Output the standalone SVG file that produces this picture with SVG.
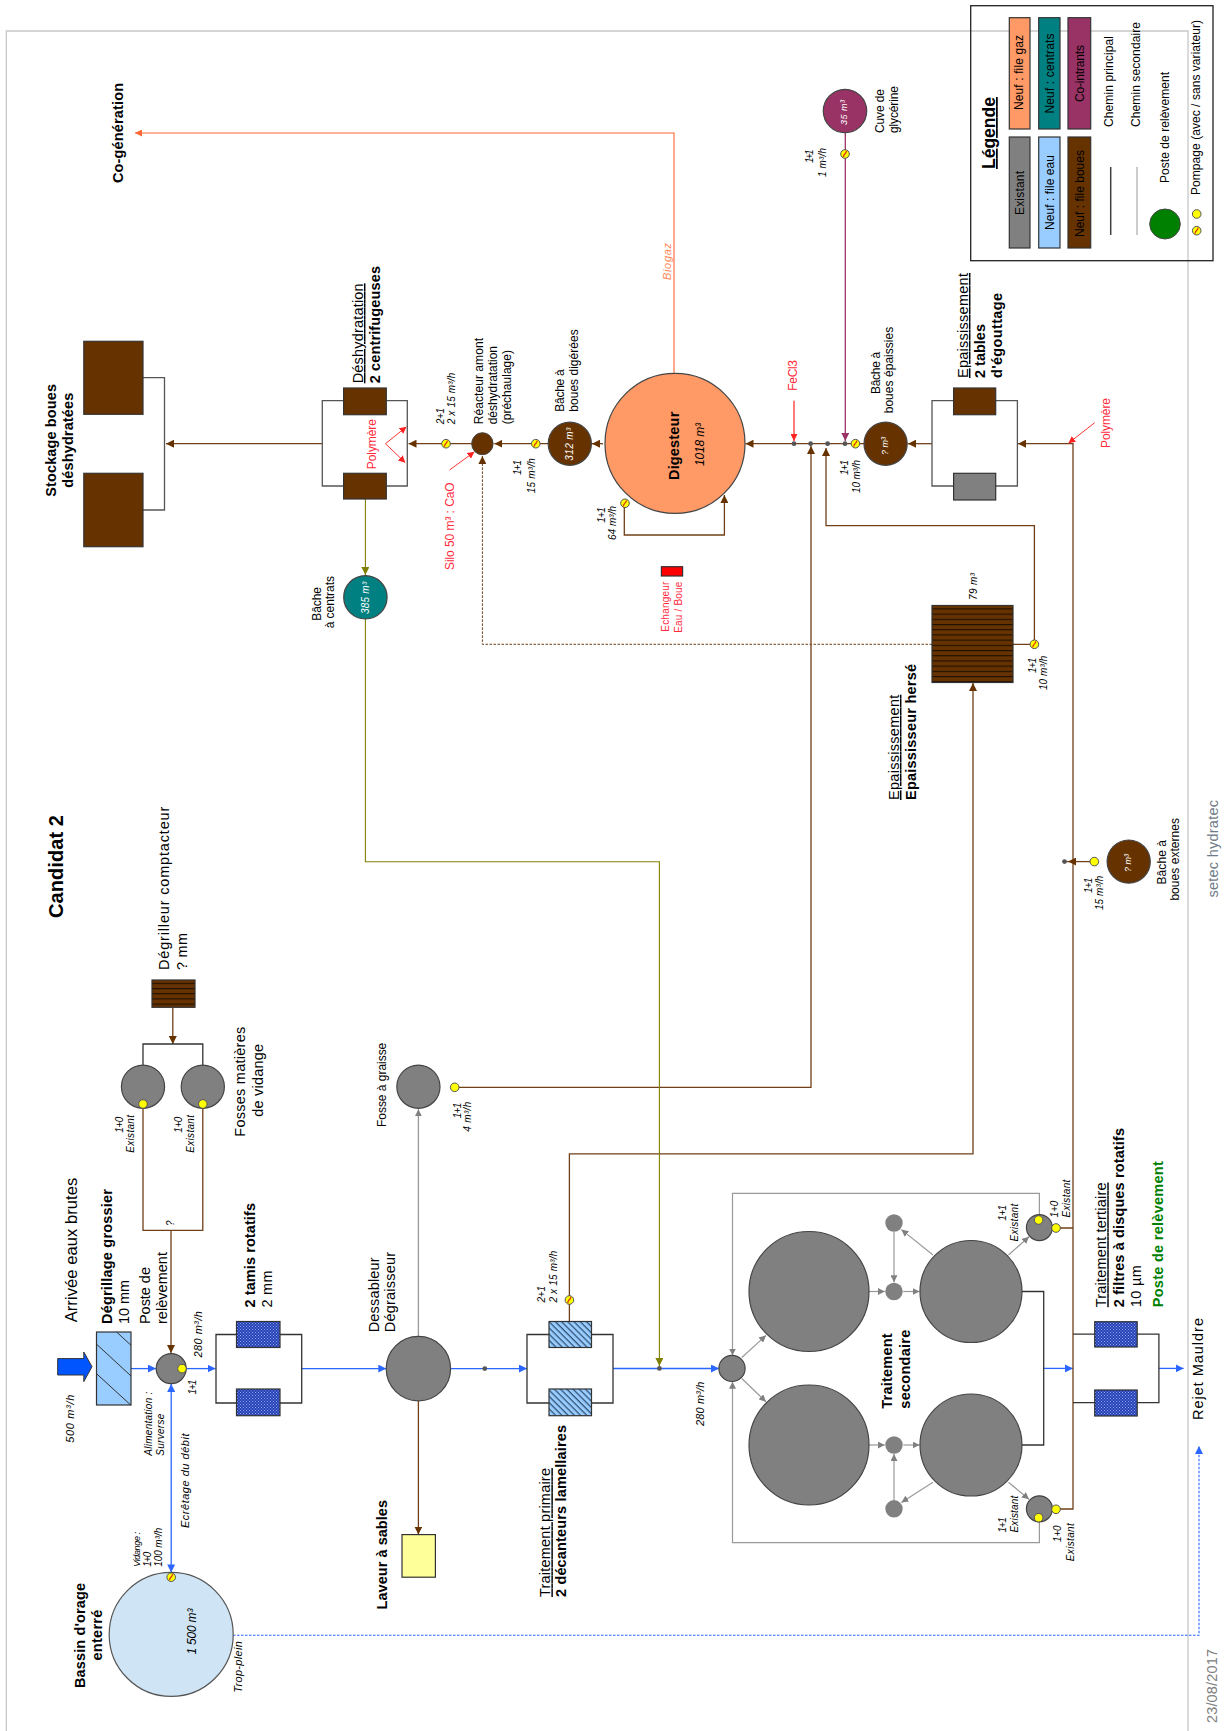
<svg xmlns="http://www.w3.org/2000/svg" width="1226" height="1731" viewBox="0 0 1226 1731">
<style>
text{font-family:"Liberation Sans",Arial,sans-serif;fill:#000}
.s9{font-size:9px}.s10{font-size:10px}.s11{font-size:11px}.s12{font-size:12px}.s13{font-size:14.5px}.s14{font-size:14.5px}.s15{font-size:15px}.s16{font-size:16.5px}.s17{font-size:17.5px}.s20{font-size:20px}
.b{font-weight:bold}.i{font-style:italic}.u{text-decoration:underline}
.w{fill:#fff}.red{fill:#ff2a3c}.grn{fill:#008000}.or{fill:#ff8855}.gr{fill:#808080}.sl{fill:#6f7b88}
.l{fill:none;stroke-width:1.3}
.blue{stroke:#2a66ff}.brown{stroke:#70401a}.gray{stroke:#999}.olive{stroke:#808000;stroke-width:1.1}.redl{stroke:#ff3333}.pur{stroke:#993366}.orl{stroke:#ff6633}.blk{stroke:#333}
.eq{stroke:#333;stroke-width:1.2}
.ci{stroke:#444;stroke-width:1.2;fill:#808080}
.sw{stroke:#333;stroke-width:1.2}
</style>
<defs>
<marker id="aBlue" viewBox="0 0 8 8" refX="8" refY="4" markerWidth="8" markerHeight="8" markerUnits="userSpaceOnUse" orient="auto-start-reverse"><path d="M0,0L8,4L0,8Z" fill="#2a66ff"/></marker>
<marker id="aBrown" viewBox="0 0 8 8" refX="8" refY="4" markerWidth="8" markerHeight="8" markerUnits="userSpaceOnUse" orient="auto"><path d="M0,0L8,4L0,8Z" fill="#663300"/></marker>
<marker id="aGray" viewBox="0 0 8 8" refX="8" refY="4" markerWidth="7" markerHeight="7" markerUnits="userSpaceOnUse" orient="auto"><path d="M0,0L8,4L0,8Z" fill="#808080"/></marker>
<marker id="aOlive" viewBox="0 0 8 8" refX="8" refY="4" markerWidth="8" markerHeight="8" markerUnits="userSpaceOnUse" orient="auto"><path d="M0,0L8,4L0,8Z" fill="#808000"/></marker>
<marker id="aRed" viewBox="0 0 8 8" refX="8" refY="4" markerWidth="7" markerHeight="7" markerUnits="userSpaceOnUse" orient="auto"><path d="M0,0L8,4L0,8Z" fill="#ff2020"/></marker>
<marker id="aPur" viewBox="0 0 8 8" refX="8" refY="4" markerWidth="8" markerHeight="8" markerUnits="userSpaceOnUse" orient="auto"><path d="M0,0L8,4L0,8Z" fill="#993366"/></marker>
<marker id="aOr" viewBox="0 0 8 8" refX="8" refY="4" markerWidth="7" markerHeight="7" markerUnits="userSpaceOnUse" orient="auto"><path d="M0,0L8,4L0,8Z" fill="#ff6633"/></marker>
<pattern id="chk" width="3" height="3" patternUnits="userSpaceOnUse"><rect width="3" height="3" fill="#2440b4"/><rect width="1" height="1" fill="#8fa6f0"/><rect x="1.5" y="1.5" width="1" height="1" fill="#8fa6f0"/></pattern>
<pattern id="hatch" width="4.4" height="4.4" patternUnits="userSpaceOnUse" patternTransform="rotate(45)"><rect width="4.4" height="4.4" fill="#99ccff"/><rect width="4.4" height="1.3" fill="#335577"/></pattern>
<pattern id="herse" width="5.2" height="5.2" patternUnits="userSpaceOnUse"><rect width="5.2" height="5.2" fill="#663300"/><rect width="5.2" height="1.1" fill="#1e0f00"/></pattern>
<g id="py"><circle r="4.3" fill="#ffff00" stroke="#555" stroke-width="1"/></g>
<g id="pv"><circle r="4.3" fill="#ffff00" stroke="#555" stroke-width="1"/><path d="M-1.5,3C-2,0 0.5,1 1.5,-3" fill="none" stroke="#e03010" stroke-width="1.3"/></g>
</defs>
<rect width="1226" height="1731" fill="#fff"/>
<path d="M6.3 1731V31H1188V1731" fill="none" stroke="#c8c8c8" stroke-width="1.3"/>

<g id="connectors">
<!-- water line -->
<path class="l blue" marker-end="url(#aBlue)" d="M131 1368.6H156"/>
<path class="l blue" marker-end="url(#aBlue)" d="M186 1368.6H215.5"/>
<path class="l blue" marker-end="url(#aBlue)" d="M301.7 1368.6H386.3"/>
<path class="l blue" marker-end="url(#aBlue)" d="M450.8 1368.6H527"/>
<path class="l blue" marker-end="url(#aBlue)" d="M613 1368.5H719"/>
<path class="l blue" marker-end="url(#aBlue)" d="M1043.7 1368.4H1073"/>
<path class="l blue" marker-end="url(#aBlue)" d="M1158.9 1368.4H1183.6"/>
<path class="l blue" stroke-width="1.2" marker-start="url(#aBlue)" marker-end="url(#aBlue)" d="M171.2 1384V1572.4"/>
<path fill="none" class="blue" stroke-width="1.1" stroke-dasharray="2.5 1.5" marker-end="url(#aBlue)" d="M233 1635.3H1199V1446"/>
<!-- sludge -->
<path class="l brown" d="M143 1104V1230.4H202.8V1104"/>
<path class="l brown" marker-end="url(#aBrown)" d="M171 1230.4V1353"/>
<path class="l brown" marker-end="url(#aBrown)" d="M172.8 1007.3V1044"/>
<path class="l brown" marker-end="url(#aBrown)" d="M418.4 1400.5V1534.5"/>
<path class="l brown" marker-end="url(#aBrown)" d="M569.4 1322V1153.8H973V683"/>
<path class="l brown" marker-end="url(#aBrown)" d="M454.7 1087.3H811V446"/>
<path class="l brown" marker-end="url(#aBrown)" d="M1013 644.3H1034.4V525.7H826V448"/>
<path fill="none" class="brown" stroke-width="1" stroke-dasharray="2.5 1.5" marker-end="url(#aBrown)" d="M932 644.3H482.4V456"/>
<path class="l brown" marker-end="url(#aBrown)" d="M1056 1228H1073M1056 1509H1073V443.7H1018"/>
<path class="l brown" marker-end="url(#aBrown)" d="M1094 861.6H1068"/>
<path class="l brown" d="M1068 861.6H1064.5"/>
<path class="l brown" marker-end="url(#aBrown)" d="M932 443.7H908"/>
<path class="l brown" marker-end="url(#aBrown)" d="M864 443.7H745.5"/>
<path class="l brown" marker-end="url(#aBrown)" d="M603 443.7H592"/>
<path class="l brown" marker-end="url(#aBrown)" d="M548 443.7H494.3"/>
<path class="l brown" marker-end="url(#aBrown)" d="M471.7 443.7H408.5"/>
<path class="l brown" marker-end="url(#aBrown)" d="M322.3 443.7H166"/>
<path class="l brown" marker-end="url(#aBrown)" d="M624.3 503.3V535H724.4V495"/>
<!-- other -->
<path fill="none" class="olive" marker-end="url(#aOlive)" d="M365.4 499V575"/>
<path fill="none" class="olive" marker-end="url(#aOlive)" d="M365.4 619V861.7H659.4V1366"/>
<path class="l gray" marker-end="url(#aGray)" d="M418.4 1336V1109.3"/>
<path fill="none" class="orl" marker-end="url(#aOr)" stroke-width="1.1" d="M674 373V133H135"/>
<path class="l pur" marker-end="url(#aPur)" d="M845.3 133V441"/>
<path class="l redl" marker-end="url(#aRed)" d="M794 400.7V441"/>
<path fill="none" class="redl" marker-end="url(#aRed)" d="M1094.7 422.7L1068.4 443.3"/>
<path fill="none" class="redl" marker-end="url(#aRed)" d="M449.6 470L474.5 451.7"/>
<path fill="none" class="redl" marker-end="url(#aRed)" d="M385.5 443.7L406.5 426.7"/>
<path fill="none" class="redl" marker-end="url(#aRed)" d="M385.5 443.7L405.3 462.7"/>
<!-- secondary -->
<g class="gray" fill="none" stroke-width="1.2">
<path marker-end="url(#aGray)" d="M741.8 1357.5L766 1335.4"/>
<path marker-end="url(#aGray)" d="M741.8 1378.5L766 1401.8"/>
<path marker-end="url(#aGray)" d="M868.5 1291.5H884.8"/>
<path marker-end="url(#aGray)" d="M868.5 1445H884.8"/>
<path marker-end="url(#aGray)" d="M903.3 1291.5H919.6"/>
<path marker-end="url(#aGray)" d="M903.3 1445H919.6"/>
<path marker-end="url(#aGray)" d="M933 1255L901.4 1229.6"/>
<path marker-end="url(#aGray)" d="M894 1232V1282.3"/>
<path marker-end="url(#aGray)" d="M933 1482.3L901.4 1502.4"/>
<path marker-end="url(#aGray)" d="M894 1500V1454"/>
<path marker-end="url(#aGray)" d="M1008.5 1255L1029 1236.8"/>
<path marker-end="url(#aGray)" d="M1008.5 1482.3L1029 1499.2"/>
<path marker-end="url(#aGray)" d="M1039.4 1220V1193.4H732.5V1355.5"/>
<path marker-end="url(#aGray)" d="M1039.4 1517V1542.7H732.5V1381.7"/>
</g>
<path class="l blk" d="M1022 1291.5H1043.7V1445H1022"/>
<path class="l blk" d="M143 1065V1044H202.8V1065"/>
<path class="l blk" d="M216 1334.5H301.7V1403H216Z"/>
<path class="l blk" d="M527 1334.5H613V1403H527Z"/>
<path class="l blk" d="M1073 1334.2H1158.9V1402.6H1073"/>
<path class="l" stroke="#555" d="M143 377.7H164.5V510H143"/>
<path class="l" stroke="#555" d="M322.3 400.7H407.3V486H322.3Z"/>
<path class="l" stroke="#555" d="M932 400.7H1017.4V486H932Z"/>
</g>

<g id="n-jonctions">
<circle cx="484.8" cy="1368.6" r="2.4" fill="#555"/>
<circle cx="659.4" cy="1368.4" r="2.4" fill="#555"/>
</g>
<g id="n-arrivee">
<path d="M57.7 1358.6H83.8V1352L92 1366.7L83.8 1381.6V1375H57.7Z" fill="#0055ff" stroke="#333"/>
<text class="s16" x="77" y="1322.3" transform="rotate(-90 77 1322.3)" textLength="144.5">Arrivée eaux brutes</text>
<text class="s11 i" x="74" y="1442.7" transform="rotate(-90 74 1442.7)" textLength="48">500 m³/h</text>
</g>
<g id="n-degrillage">
<rect x="96.5" y="1332" width="34.5" height="73" fill="#99ccff" class="eq"/>
<path d="M116.6 1332L131 1345.3M96.9 1344.5L131 1376M96.9 1374L131 1405.3" stroke="#333" stroke-width="1" fill="none"/>
<text class="s14 b" x="111.5" y="1324" transform="rotate(-90 111.5 1324)" textLength="135">Dégrillage grossier</text>
<text class="s14" x="128.5" y="1324" transform="rotate(-90 128.5 1324)" textLength="44">10 mm</text>
</g>
<g id="n-poste">
<circle class="ci" cx="171.2" cy="1368.6" r="15"/>
<use href="#py" x="182" y="1368.6"/>
<text class="s14" x="149.5" y="1324" transform="rotate(-90 149.5 1324)" textLength="57">Poste de</text>
<text class="s14" x="167" y="1324" transform="rotate(-90 167 1324)" textLength="72">relèvement</text>
<text class="s11 i" x="201.7" y="1357.5" transform="rotate(-90 201.7 1357.5)" textLength="46.5">280 m³/h</text>
<text class="s10 i" x="195.7" y="1394.5" transform="rotate(-90 195.7 1394.5)" textLength="14.8">1+1</text>
<text class="s10 i" x="174" y="1226" transform="rotate(-90 174 1226)">?</text>
<text class="s10 i" x="152" y="1455.7" transform="rotate(-90 152 1455.7)" textLength="64">Alimentation :</text>
<text class="s10 i" x="164" y="1455.7" transform="rotate(-90 164 1455.7)" textLength="42">Surverse</text>
<text class="s11 i" x="189" y="1528" transform="rotate(-90 189 1528)" textLength="94.5">Ecrêtage du débit</text>
</g>
<g id="n-bassin">
<circle cx="171.2" cy="1634.4" r="62" fill="#cfe5f5" stroke="#555" stroke-width="1.2"/>
<use href="#pv" x="171.2" y="1577.2"/>
<text class="s14 b" x="85" y="1688" transform="rotate(-90 85 1688)" textLength="105">Bassin d'orage</text>
<text class="s14 b" x="102" y="1660.6" transform="rotate(-90 102 1660.6)" textLength="51">enterré</text>
<text class="s9 i" x="140.4" y="1566.8" transform="rotate(-90 140.4 1566.8)" textLength="35">Vidange :</text>
<text class="s10 i" x="151" y="1566.8" transform="rotate(-90 151 1566.8)" textLength="15">1+0</text>
<text class="s10 i" x="162" y="1566.8" transform="rotate(-90 162 1566.8)" textLength="39">100 m³/h</text>
<text class="s12 i" x="196.5" y="1654.6" transform="rotate(-90 196.5 1654.6)" textLength="46">1 500 m³</text>
<text class="s11 i" x="242.5" y="1692.8" transform="rotate(-90 242.5 1692.8)" textLength="51.8">Trop-plein</text>
</g>
<g id="n-tamis">
<rect x="236.5" y="1321.5" width="43.5" height="26" fill="url(#chk)" class="eq"/>
<rect x="236.5" y="1389" width="43.5" height="26.7" fill="url(#chk)" class="eq"/>
<text class="s14 b" x="255" y="1307.5" transform="rotate(-90 255 1307.5)" textLength="104.5">2 tamis rotatifs</text>
<text class="s14" x="272" y="1307.5" transform="rotate(-90 272 1307.5)" textLength="37">2 mm</text>
</g>
<g id="n-dessableur">
<circle class="ci" cx="418.4" cy="1368.6" r="32.2"/>
<text class="s14" x="378.8" y="1332.3" transform="rotate(-90 378.8 1332.3)" textLength="75">Dessableur</text>
<text class="s14" x="395.4" y="1332.3" transform="rotate(-90 395.4 1332.3)" textLength="80.4">Dégraisseur</text>
</g>
<g id="n-laveur">
<rect x="402" y="1534.6" width="33.4" height="42.6" fill="#ffff99" class="eq"/>
<text class="s14 b" x="387.5" y="1609.4" transform="rotate(-90 387.5 1609.4)" textLength="109.4">Laveur à sables</text>
</g>
<g id="n-fosse-graisse">
<circle class="ci" cx="418.4" cy="1086.7" r="21.6"/>
<use href="#py" x="454.7" y="1087.3"/>
<text class="s12" x="385.5" y="1127" transform="rotate(-90 385.5 1127)" textLength="84.3">Fosse à graisse</text>
<text class="s10 i" x="460.6" y="1118.3" transform="rotate(-90 460.6 1118.3)" textLength="15.6">1+1</text>
<text class="s10 i" x="471.3" y="1131.7" transform="rotate(-90 471.3 1131.7)" textLength="30">4 m³/h</text>
</g>
<g id="n-decanteurs">
<rect x="549" y="1321.5" width="42.5" height="26" fill="url(#hatch)" class="eq"/>
<rect x="549" y="1389" width="42.5" height="26.7" fill="url(#hatch)" class="eq"/>
<use href="#pv" x="569.4" y="1300"/>
<text class="s10 i" x="545" y="1302.6" transform="rotate(-90 545 1302.6)" textLength="16.6">2+1</text>
<text class="s10 i" x="556.7" y="1302.6" transform="rotate(-90 556.7 1302.6)" textLength="51.8">2 x 15 m³/h</text>
<text class="s14 u" x="550.4" y="1597" transform="rotate(-90 550.4 1597)" textLength="129">Traitement primaire</text>
<text class="s14 b" x="566.2" y="1597" transform="rotate(-90 566.2 1597)" textLength="172">2 décanteurs lamellaires</text>
</g>
<g id="n-fosses">
<circle class="ci" cx="143" cy="1086.7" r="21.6"/>
<circle class="ci" cx="202.8" cy="1086.7" r="21.6"/>
<use href="#py" x="143" y="1104"/>
<use href="#py" x="202.8" y="1104"/>
<text class="s10 i" x="122.6" y="1132.7" transform="rotate(-90 122.6 1132.7)" textLength="16">1+0</text>
<text class="s10 i" x="134.4" y="1152.7" transform="rotate(-90 134.4 1152.7)" textLength="37.7">Existant</text>
<text class="s10 i" x="182" y="1132.7" transform="rotate(-90 182 1132.7)" textLength="16">1+0</text>
<text class="s10 i" x="193.8" y="1152.7" transform="rotate(-90 193.8 1152.7)" textLength="37.7">Existant</text>
<text class="s14" x="245" y="1136.7" transform="rotate(-90 245 1136.7)" textLength="110">Fosses matières</text>
<text class="s14" x="263" y="1116.7" transform="rotate(-90 263 1116.7)" textLength="72.7">de vidange</text>
</g>
<g id="n-degrilleur">
<rect x="152" y="980" width="43" height="27.3" fill="url(#herse)" class="eq"/>
<text class="s14" x="169.2" y="970" transform="rotate(-90 169.2 970)" textLength="163.3">Dégrilleur comptacteur</text>
<text class="s14" x="186.6" y="970" transform="rotate(-90 186.6 970)" textLength="37">? mm</text>
</g>
<g id="title"><text class="s20 b" x="62.5" y="918" transform="rotate(-90 62.5 918)" textLength="103">Candidat 2</text></g>
<g id="n-secondaire">
<circle class="ci" cx="732" cy="1368.4" r="13.1"/>
<circle class="ci" cx="809" cy="1291.5" r="60"/>
<circle class="ci" cx="809" cy="1445" r="60"/>
<circle class="ci" cx="971" cy="1291.5" r="51"/>
<circle class="ci" cx="971" cy="1445" r="51"/>
<circle cx="894" cy="1223" r="8.7" fill="#808080"/>
<circle cx="894" cy="1291.5" r="8.7" fill="#808080"/>
<circle cx="894" cy="1445" r="8.7" fill="#808080"/>
<circle cx="894" cy="1508.8" r="8.7" fill="#808080"/>
<circle class="ci" cx="1039.4" cy="1227.6" r="13"/>
<circle class="ci" cx="1039.4" cy="1508.8" r="13"/>
<use href="#py" x="1038.6" y="1220"/>
<use href="#py" x="1056" y="1228"/>
<use href="#py" x="1038.6" y="1517.7"/>
<use href="#py" x="1056" y="1509.3"/>
<text class="s11 i" x="704.3" y="1426" transform="rotate(-90 704.3 1426)" textLength="44.3">280 m³/h</text>
<text class="s14 b" x="892.5" y="1408.7" transform="rotate(-90 892.5 1408.7)" textLength="75.3">Traitement</text>
<text class="s14 b" x="910" y="1408.7" transform="rotate(-90 910 1408.7)" textLength="79">secondaire</text>
<text class="s10 i" x="1006.5" y="1220.7" transform="rotate(-90 1006.5 1220.7)" textLength="15.7">1+1</text>
<text class="s10 i" x="1018" y="1241.6" transform="rotate(-90 1018 1241.6)" textLength="37.8">Existant</text>
<text class="s10 i" x="1057.6" y="1217.5" transform="rotate(-90 1057.6 1217.5)" textLength="16.9">1+0</text>
<text class="s10 i" x="1069.6" y="1217.5" transform="rotate(-90 1069.6 1217.5)" textLength="37.8">Existant</text>
<text class="s10 i" x="1006.5" y="1532.6" transform="rotate(-90 1006.5 1532.6)" textLength="15.3">1+1</text>
<text class="s10 i" x="1018" y="1532.6" transform="rotate(-90 1018 1532.6)" textLength="37">Existant</text>
<text class="s10 i" x="1061.4" y="1541.9" transform="rotate(-90 1061.4 1541.9)" textLength="16.5">1+0</text>
<text class="s10 i" x="1074" y="1561.2" transform="rotate(-90 1074 1561.2)" textLength="37.9">Existant</text>
</g>
<g id="n-filtres">
<rect x="1094.7" y="1321.7" width="42.5" height="25.3" fill="url(#chk)" class="eq"/>
<rect x="1094.7" y="1390" width="42.5" height="26" fill="url(#chk)" class="eq"/>
<text class="s14 u" x="1106.3" y="1307.2" transform="rotate(-90 1106.3 1307.2)" textLength="124.7">Traitement tertiaire</text>
<text class="s14 b" x="1123.7" y="1307.2" transform="rotate(-90 1123.7 1307.2)" textLength="179.2">2 filtres à disques rotatifs</text>
<text class="s14" x="1141" y="1307.2" transform="rotate(-90 1141 1307.2)" textLength="42">10 µm</text>
<text class="s14 b grn" x="1163" y="1307.2" transform="rotate(-90 1163 1307.2)" textLength="146">Poste de relèvement</text>
</g>
<g id="n-rejet"><text class="s14" x="1203" y="1420" transform="rotate(-90 1203 1420)" textLength="102">Rejet Mauldre</text></g>
<g id="footer">
<text class="s13 gr" x="1217" y="1723" transform="rotate(-90 1217 1723)" textLength="74">23/08/2017</text>
<text class="s13 sl" x="1218" y="897.5" transform="rotate(-90 1218 897.5)" textLength="97.5">setec hydratec</text>
</g>
<g id="n-externes">
<circle cx="1128.7" cy="861.6" r="21.6" fill="#663300" stroke="#444" stroke-width="1.2"/>
<use href="#py" x="1094.3" y="861.6"/>
<circle cx="1064.5" cy="861.6" r="2.4" fill="#555"/>
<text class="s9 i w" x="1131" y="872" transform="rotate(-90 1131 872)">? m³</text>
<text class="s10 i" x="1092" y="893" transform="rotate(-90 1092 893)" textLength="15.4">1+1</text>
<text class="s10 i" x="1103" y="910" transform="rotate(-90 1103 910)" textLength="34.3">15 m³/h</text>
<text class="s12" x="1165.8" y="884.5" transform="rotate(-90 1165.8 884.5)" textLength="44.5">Bâche à</text>
<text class="s12" x="1179" y="900.6" transform="rotate(-90 1179 900.6)" textLength="82.6">boues externes</text>
</g>
<g id="n-herse">
<rect x="932" y="605.5" width="81" height="77" fill="url(#herse)" class="eq"/>
<use href="#pv" x="1034.4" y="644.3"/>
<text class="s10 i" x="977" y="600" transform="rotate(-90 977 600)" textLength="27">79 m³</text>
<text class="s14 u" x="899" y="800" transform="rotate(-90 899 800)" textLength="105.3">Epaississement</text>
<text class="s14 b" x="915.7" y="800" transform="rotate(-90 915.7 800)" textLength="136">Epaississeur hersé</text>
<text class="s10 i" x="1035.5" y="673" transform="rotate(-90 1035.5 673)" textLength="15.4">1+1</text>
<text class="s10 i" x="1047" y="690" transform="rotate(-90 1047 690)" textLength="34.3">10 m³/h</text>
</g>
<g id="n-echangeur">
<rect x="661.4" y="566.7" width="21.2" height="9.3" fill="#ff0000" stroke="#333" stroke-width="1.2"/>
<text class="s10 red" x="669" y="631.7" transform="rotate(-90 669 631.7)" textLength="50">Echangeur</text>
<text class="s10 red" x="681.8" y="632.7" transform="rotate(-90 681.8 632.7)" textLength="51">Eau / Boue</text>
</g>
<g id="n-tables">
<rect x="953.6" y="388" width="42.1" height="26.7" fill="#663300" class="eq"/>
<rect x="953.6" y="473.3" width="42.1" height="26.7" fill="#808080" class="eq"/>
<text class="s14 u" x="968" y="378" transform="rotate(-90 968 378)" textLength="105">Epaississement</text>
<text class="s14 b" x="985" y="378" transform="rotate(-90 985 378)" textLength="54">2 tables</text>
<text class="s14 b" x="1002" y="378" transform="rotate(-90 1002 378)" textLength="85">d'égouttage</text>
<text class="s12 red" x="1110" y="448" transform="rotate(-90 1110 448)" textLength="50">Polymère</text>
</g>
<g id="n-bache-epaissies">
<circle cx="885.6" cy="443.7" r="21.6" fill="#663300" stroke="#444" stroke-width="1.2"/>
<use href="#pv" x="855.4" y="443.7"/>
<circle cx="794" cy="443.7" r="2.4" fill="#555"/><circle cx="810.6" cy="443.7" r="2.4" fill="#555"/><circle cx="827.6" cy="443.7" r="2.4" fill="#555"/><circle cx="845" cy="443.7" r="2.4" fill="#555"/>
<text class="s9 i w" x="888" y="455" transform="rotate(-90 888 455)">? m³</text>
<text class="s12" x="879.8" y="394" transform="rotate(-90 879.8 394)" textLength="42.3">Bâche à</text>
<text class="s12" x="893" y="413.3" transform="rotate(-90 893 413.3)" textLength="86.6">boues épaissies</text>
<text class="s10 i" x="848" y="475" transform="rotate(-90 848 475)" textLength="15">1+1</text>
<text class="s10 i" x="860.4" y="493" transform="rotate(-90 860.4 493)" textLength="33">10 m³/h</text>
<text class="s12 red" x="797" y="390.7" transform="rotate(-90 797 390.7)" textLength="30.7">FeCl3</text>
</g>
<g id="n-digesteur">
<ellipse cx="675" cy="443.4" rx="70" ry="70" fill="#ff9966" stroke="#444" stroke-width="1.2"/>
<use href="#pv" x="625" y="503.3"/>
<text class="s14 b" x="678.8" y="480" transform="rotate(-90 678.8 480)" textLength="68.3">Digesteur</text>
<text class="s12 i" x="704" y="466" transform="rotate(-90 704 466)" textLength="43">1018 m³</text>
<text class="s11 i or" x="671" y="280" transform="rotate(-90 671 280)" textLength="37">Biogaz</text>
<text class="s10 i" x="605" y="522.7" transform="rotate(-90 605 522.7)" textLength="15.4">1+1</text>
<text class="s10 i" x="616" y="540" transform="rotate(-90 616 540)" textLength="34">64 m³/h</text>
</g>
<g id="n-cogeneration"><text class="s14 b" x="122.8" y="183" transform="rotate(-90 122.8 183)" textLength="100">Co-génération</text></g>
<g id="n-bache-digerees">
<circle cx="569.8" cy="443.7" r="21.6" fill="#663300" stroke="#444" stroke-width="1.2"/>
<use href="#pv" x="535.8" y="443.7"/>
<text class="s10 i w" x="572.6" y="460.7" transform="rotate(-90 572.6 460.7)" textLength="33">312 m³</text>
<text class="s12" x="564.3" y="411.7" transform="rotate(-90 564.3 411.7)" textLength="42.4">Bâche à</text>
<text class="s12" x="578" y="411.7" transform="rotate(-90 578 411.7)" textLength="82.4">boues digérées</text>
<text class="s10 i" x="521" y="475" transform="rotate(-90 521 475)" textLength="15">1+1</text>
<text class="s10 i" x="534.6" y="493.3" transform="rotate(-90 534.6 493.3)" textLength="35">15 m³/h</text>
</g>
<g id="n-reacteur">
<ellipse cx="482.4" cy="443.7" rx="10.7" ry="11" fill="#663300" stroke="#444" stroke-width="1"/>
<use href="#pv" x="446" y="443.7"/>
<text class="s10 i" x="443.6" y="424.3" transform="rotate(-90 443.6 424.3)" textLength="16.3">2+1</text>
<text class="s10 i" x="454.7" y="424.3" transform="rotate(-90 454.7 424.3)" textLength="51.6">2 x 15 m³/h</text>
<text class="s12" x="483" y="424.3" transform="rotate(-90 483 424.3)" textLength="86.3">Réacteur amont</text>
<text class="s12" x="497" y="424.3" transform="rotate(-90 497 424.3)" textLength="78.3">déshydratation</text>
<text class="s12" x="511" y="424.3" transform="rotate(-90 511 424.3)" textLength="74.3">(préchaulage)</text>
<text class="s12 red" x="453.5" y="570" transform="rotate(-90 453.5 570)" textLength="87.7">Silo 50 m³ : CaO</text>
</g>
<g id="n-centrifugeuses">
<rect x="343.6" y="388" width="42.7" height="26.7" fill="#663300" class="eq"/>
<rect x="343.6" y="473.3" width="42.7" height="25.7" fill="#663300" class="eq"/>
<text class="s14 u" x="363" y="383.3" transform="rotate(-90 363 383.3)" textLength="100">Déshydratation</text>
<text class="s14 b" x="379.6" y="383.3" transform="rotate(-90 379.6 383.3)" textLength="117.3">2 centrifugeuses</text>
<text class="s12 red" x="376.4" y="469.3" transform="rotate(-90 376.4 469.3)" textLength="50.3">Polymère</text>
</g>
<g id="n-stockage">
<rect x="83.8" y="341.3" width="59.2" height="73" fill="#663300" class="eq"/>
<rect x="83.8" y="473.3" width="59.2" height="73.4" fill="#663300" class="eq"/>
<text class="s14 b" x="56" y="496.7" transform="rotate(-90 56 496.7)" textLength="112.7">Stockage boues</text>
<text class="s14 b" x="73" y="487.7" transform="rotate(-90 73 487.7)" textLength="95">déshydratées</text>
</g>
<g id="n-centrats">
<circle cx="365.4" cy="597.3" r="21.7" fill="#008080" stroke="#444" stroke-width="1.2"/>
<text class="s10 i w" x="368.5" y="614" transform="rotate(-90 368.5 614)" textLength="32.3">385 m³</text>
<text class="s12" x="321.5" y="620.7" transform="rotate(-90 321.5 620.7)" textLength="33.7">Bâche</text>
<text class="s12" x="334" y="628.3" transform="rotate(-90 334 628.3)" textLength="52.3">à centrats</text>
</g>
<g id="n-glycerine">
<circle cx="845" cy="111" r="21.7" fill="#993366" stroke="#444" stroke-width="1.2"/>
<use href="#pv" x="845" y="154"/>
<text class="s9 i w" x="847" y="125" transform="rotate(-90 847 125)" textLength="25">35 m³</text>
<text class="s12" x="884" y="133" transform="rotate(-90 884 133)" textLength="44">Cuve de</text>
<text class="s12" x="898" y="133" transform="rotate(-90 898 133)" textLength="47">glycérine</text>
<text class="s10 i" x="812.7" y="163" transform="rotate(-90 812.7 163)" textLength="13.5">1+1</text>
<text class="s10 i" x="826" y="177" transform="rotate(-90 826 177)" textLength="29">1 m³/h</text>
</g>
<g id="legend">
<rect x="970.7" y="5.7" width="242.3" height="255" fill="none" stroke="#222" stroke-width="1.3"/>
<text class="s17 b u" x="995" y="169" transform="rotate(-90 995 169)" textLength="72">Légende</text>
<rect class="sw" x="1009.3" y="17.7" width="20.7" height="111.3" fill="#ff9966"/>
<rect class="sw" x="1009.3" y="137" width="20.7" height="111" fill="#808080"/>
<rect class="sw" x="1038.7" y="17.7" width="21.3" height="111.3" fill="#008080"/>
<rect class="sw" x="1038.7" y="137" width="21.3" height="111" fill="#99ccff"/>
<rect class="sw" x="1068" y="17.7" width="22.7" height="111.3" fill="#993366"/>
<rect class="sw" x="1068" y="137" width="22.7" height="111" fill="#663300"/>
<text class="s12" x="1023" y="110" transform="rotate(-90 1023 110)" textLength="75">Neuf : file gaz</text>
<text class="s12" x="1023.5" y="215" transform="rotate(-90 1023.5 215)" textLength="44">Existant</text>
<text class="s12" x="1053.5" y="113.5" transform="rotate(-90 1053.5 113.5)" textLength="80">Neuf : centrats</text>
<text class="s12" x="1053.5" y="230" transform="rotate(-90 1053.5 230)" textLength="75">Neuf : file eau</text>
<text class="s12" x="1083.5" y="102" transform="rotate(-90 1083.5 102)" textLength="57">Co-intrants</text>
<text class="s12" x="1083.5" y="237" transform="rotate(-90 1083.5 237)" textLength="87">Neuf : file boues</text>
<path d="M1110.7 167V235" stroke="#404040" stroke-width="1.5"/>
<path d="M1137 167V235" stroke="#aaa" stroke-width="1.2"/>
<text class="s12" x="1113" y="127" transform="rotate(-90 1113 127)" textLength="91">Chemin principal</text>
<text class="s12" x="1140" y="127" transform="rotate(-90 1140 127)" textLength="105">Chemin secondaire</text>
<ellipse cx="1165" cy="224" rx="15.3" ry="15" fill="#008000" stroke="#444"/>
<text class="s12" x="1169" y="183" transform="rotate(-90 1169 183)" textLength="111">Poste de relèvement</text>
<use href="#py" x="1196.7" y="214"/>
<use href="#pv" x="1196.7" y="230.7"/>
<text class="s12" x="1200" y="195" transform="rotate(-90 1200 195)" textLength="175">Pompage (avec / sans variateur)</text>
</g>
</svg>
